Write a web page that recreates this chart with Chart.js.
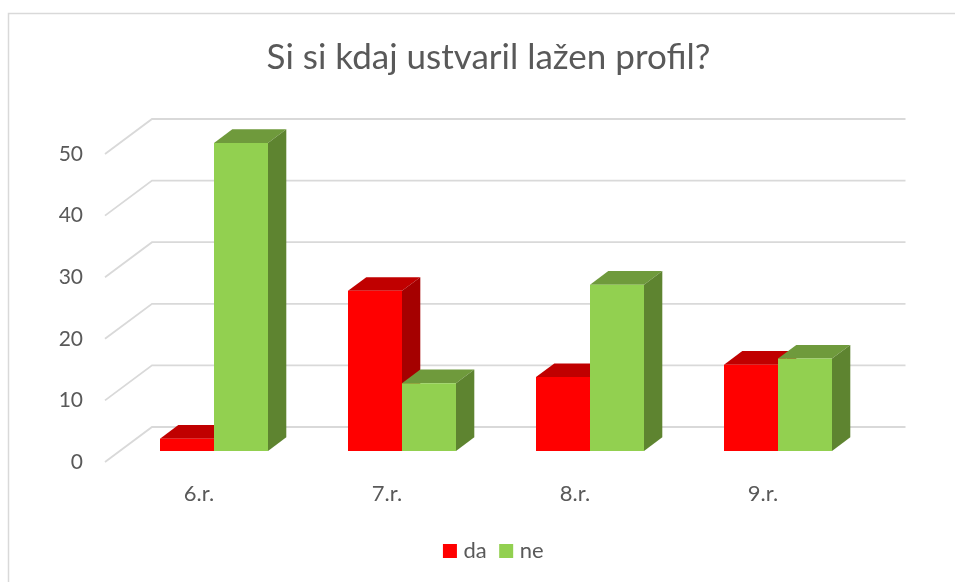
<!DOCTYPE html>
<html>
<head>
<meta charset="utf-8">
<style>
html,body{margin:0;padding:0;background:#fff}
#wrap{width:955px;height:582px;position:relative}
canvas{display:block}
</style>
<script src="https://cdn.jsdelivr.net/npm/chart.js@4"></script>
</head>
<body>
<div id="wrap"><canvas id="c" width="955" height="582"></canvas></div>
<script>
const categories = ["6.r.", "7.r.", "8.r.", "9.r."];
const daValues = [2, 26, 12, 14];
const neValues = [50, 11, 27, 15];
const titleText = "Si si kdaj ustvaril lažen profil?";

const FONT = "Lato, Carlito, sans-serif";
const TEXT = "#595959";
const GRID = "#d9d9d9";
const DEPTH_X = 18.3, DEPTH_Y = 13.7;
const faces = {
  da: {top: "#c00000", side: "#a50000"},
  ne: {top: "#6f9a3c", side: "#5e8430"}
};

function poly(ctx, pts, fill) {
  ctx.beginPath();
  pts.forEach((p, i) => i ? ctx.lineTo(p[0], p[1]) : ctx.moveTo(p[0], p[1]));
  ctx.closePath();
  ctx.fillStyle = fill;
  ctx.fill();
}

const frame3d = {
  id: "frame3d",
  afterLayout(chart) {
    // let the tick labels use the room left of the axis box, nudge the legend
    chart.scales.y.left = 0;
    chart.legend.left += 7;
    chart.legend.right += 7;
  },
  beforeDraw(chart) {
    const ctx = chart.ctx;
    ctx.save();
    ctx.fillStyle = "#fff";
    ctx.fillRect(0, 0, chart.width, chart.height);
    ctx.strokeStyle = GRID;
    ctx.lineWidth = 1.5;
    ctx.beginPath();
    ctx.moveTo(8.5, chart.height);
    ctx.lineTo(8.5, 13.5);
    ctx.lineTo(chart.width, 13.5);
    ctx.stroke();
    ctx.restore();
  },
  beforeDatasetsDraw(chart) {
    const ctx = chart.ctx, y = chart.scales.y, area = chart.chartArea;
    ctx.save();
    ctx.strokeStyle = GRID;
    ctx.lineWidth = 1.8;
    y.ticks.forEach(t => {
      const p = y.getPixelForValue(t.value);
      ctx.beginPath();
      ctx.moveTo(area.left - 15, p + 11);
      ctx.lineTo(area.left + 32, p - 24);
      ctx.lineTo(area.left + 785.5, p - 24);
      ctx.stroke();
    });
    chart.data.datasets.forEach((ds, i) => {
      const f = faces[ds.label];
      chart.getDatasetMeta(i).data.forEach(b => {
        const l = b.x - b.width / 2, r = b.x + b.width / 2, t = b.y, bt = b.base;
        poly(ctx, [[l, t], [r, t], [r + DEPTH_X, t - DEPTH_Y], [l + DEPTH_X, t - DEPTH_Y]], f.top);
        poly(ctx, [[r, t], [r + DEPTH_X, t - DEPTH_Y], [r + DEPTH_X, bt - DEPTH_Y], [r, bt]], f.side);
      });
    });
    ctx.restore();
  }
};

new Chart(document.getElementById("c"), {
  type: "bar",
  plugins: [frame3d],
  data: {
    labels: categories,
    datasets: [
      {label: "da", data: daValues, backgroundColor: "#ff0000", borderWidth: 0},
      {label: "ne", data: neValues, backgroundColor: "#92d050", borderWidth: 0}
    ]
  },
  options: {
    responsive: false,
    animation: false,
    events: [],
    categoryPercentage: 108 / 188,
    barPercentage: 1,
    layout: {padding: {left: 105, right: 83, top: 0, bottom: 10}},
    plugins: {
      tooltip: {enabled: false},
      title: {
        display: true,
        text: titleText,
        color: TEXT,
        font: {family: FONT, size: 35, weight: "normal", lineHeight: "40px"},
        padding: {top: 38, bottom: 65},
        align: "center"
      },
      legend: {
        display: true,
        position: "bottom",
        onClick: null,
        labels: {
          color: TEXT,
          font: {family: FONT, size: 22},
          boxWidth: 5,
          boxHeight: 5,
          padding: 17,
          generateLabels(chart) {
            return chart.data.datasets.map((ds, i) => ({
              text: ds.label,
              fillStyle: ds.backgroundColor,
              strokeStyle: ds.backgroundColor,
              lineWidth: 9,
              fontColor: TEXT,
              hidden: false,
              datasetIndex: i
            }));
          }
        }
      }
    },
    scales: {
      x: {
        grid: {display: false, drawTicks: false},
        border: {display: false},
        ticks: {color: TEXT, font: {family: FONT, size: 22}, padding: 30, labelOffset: -15, maxRotation: 0},
        afterFit(s) { s.height = 72; }
      },
      y: {
        min: 0,
        max: 50,
        grid: {display: false, drawTicks: false},
        border: {display: false},
        ticks: {color: TEXT, font: {family: FONT, size: 21}, padding: 37, stepSize: 10, labelOffset: 11},
        afterFit(s) { s.width = 15; }
      }
    }
  }
});
</script>
</body>
</html>
